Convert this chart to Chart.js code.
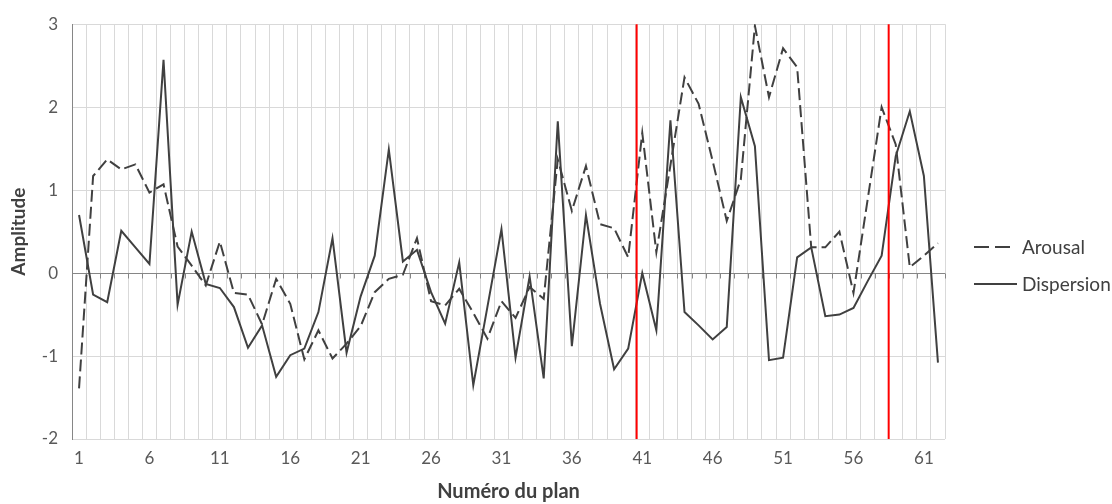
<!DOCTYPE html>
<html>
<head>
<meta charset="utf-8">
<script src="https://cdn.jsdelivr.net/npm/chart.js@4/dist/chart.umd.min.js"></script>
<style>
  html, body { margin: 0; padding: 0; background: #ffffff; }
  #wrap { width: 1112px; height: 504px; }
</style>
</head>
<body>
<div id="wrap"><canvas id="chart" width="1112" height="504"></canvas></div>
<script>
// Shot numbers (x categories)
const plans = [
  '1','2','3','4','5','6','7','8','9','10',
  '11','12','13','14','15','16','17','18','19','20',
  '21','22','23','24','25','26','27','28','29','30',
  '31','32','33','34','35','36','37','38','39','40',
  '41','42','43','44','45','46','47','48','49','50',
  '51','52','53','54','55','56','57','58','59','60',
  '61','62'
];

// Arousal amplitude per shot
const arousal = [
  -1.39, 1.17, 1.37, 1.25, 1.31, 0.97, 1.07, 0.32, 0.09, -0.15,
  0.38, -0.24, -0.26, -0.62, -0.07, -0.37, -1.04, -0.69, -1.03, -0.85,
  -0.64, -0.23, -0.07, -0.02, 0.42, -0.34, -0.39, -0.19, -0.48, -0.79,
  -0.34, -0.54, -0.17, -0.31, 1.37, 0.75, 1.29, 0.59, 0.54, 0.19,
  1.69, 0.25, 1.30, 2.36, 2.04, 1.35, 0.63, 1.13, 2.98, 2.12,
  2.71, 2.48, 0.31, 0.31, 0.50, -0.24, 0.88, 2.00, 1.55, 0.07,
  0.21, 0.36
];

// Dispersion amplitude per shot
const dispersion = [
  0.70, -0.26, -0.35, 0.51, 0.31, 0.11, 2.57, -0.38, 0.50, -0.13,
  -0.18, -0.41, -0.90, -0.63, -1.25, -0.99, -0.91, -0.47, 0.42, -0.96,
  -0.28, 0.21, 1.49, 0.14, 0.28, -0.23, -0.61, 0.13, -1.35, -0.41,
  0.53, -1.02, -0.04, -1.27, 1.83, -0.88, 0.70, -0.37, -1.16, -0.91,
  0.00, -0.69, 1.84, -0.47, -0.63, -0.80, -0.65, 2.12, 1.53, -1.05,
  -1.02, 0.19, 0.31, -0.52, -0.50, -0.42, -0.10, 0.21, 1.41, 1.95,
  1.17, -1.08
];

// Section boundaries (in shot-number units) marked with red vertical lines
const sectionMarks = [40.6, 58.5];

// Y axis range and tick step
const yMin = -2, yMax = 3, yStep = 1;

const FONT = 'Lato, "Open Sans", "Liberation Sans", sans-serif';
const LINE_COLOR = '#404040';
const ARO_DASH = [12, 5];

// Small tick marks hanging below the zero line, plus the red section lines and legend
const overlayPlugin = {
  id: 'overlay',
  beforeDatasetsDraw(chart) {
    const { ctx } = chart;
    const xs = chart.scales.x, ys = chart.scales.y;
    const y0 = Math.round(ys.getPixelForValue(0)) + 0.5;
    ctx.save();
    ctx.strokeStyle = '#868686';
    ctx.lineWidth = 1;
    ctx.beginPath();
    for (let i = 0; i <= plans.length; i++) {
      const x = Math.round(xs.getPixelForValue(i - 0.5)) + 0.5;
      ctx.moveTo(x, y0);
      ctx.lineTo(x, y0 + 5);
    }
    ctx.stroke();
    ctx.restore();
  },
  afterDatasetsDraw(chart) {
    const { ctx, chartArea } = chart;
    const xs = chart.scales.x;
    ctx.save();
    ctx.strokeStyle = '#ff0000';
    ctx.lineWidth = 2;
    sectionMarks.forEach(p => {
      const x = xs.getPixelForValue(p - 1);
      ctx.beginPath();
      ctx.moveTo(x, chartArea.top);
      ctx.lineTo(x, chartArea.bottom);
      ctx.stroke();
    });
    ctx.restore();
  },
  afterDraw(chart) {
    const { ctx, chartArea } = chart;
    const x0 = chartArea.right + 29;
    const rows = [
      { ds: chart.data.datasets[0], y: 247, len: 38, dash: [15, 6] },
      { ds: chart.data.datasets[1], y: 284, len: 43, dash: [] }
    ];
    ctx.save();
    rows.forEach(r => {
      ctx.strokeStyle = r.ds.borderColor;
      ctx.lineWidth = 2;
      ctx.setLineDash(r.dash);
      ctx.beginPath();
      ctx.moveTo(x0, r.y);
      ctx.lineTo(x0 + r.len, r.y);
      ctx.stroke();
      ctx.setLineDash([]);
      ctx.fillStyle = '#404040';
      ctx.font = '19px ' + FONT;
      ctx.textBaseline = 'middle';
      ctx.textAlign = 'left';
      ctx.fillText(r.ds.label, x0 + 48, r.y + 1);
    });
    ctx.restore();
  }
};

new Chart(document.getElementById('chart'), {
  type: 'line',
  data: {
    labels: plans,
    datasets: [
      {
        label: 'Arousal',
        data: arousal,
        borderColor: LINE_COLOR,
        borderWidth: 2,
        borderDash: ARO_DASH,
        fill: false,
        pointRadius: 0,
        tension: 0
      },
      {
        label: 'Dispersion',
        data: dispersion,
        borderColor: LINE_COLOR,
        borderWidth: 2,
        fill: false,
        pointRadius: 0,
        tension: 0
      }
    ]
  },
  options: {
    responsive: false,
    animation: false,
    devicePixelRatio: 1,
    layout: { padding: { top: 23, right: 167, bottom: 0, left: 0 } },
    plugins: {
      legend: { display: false },
      tooltip: { enabled: false }
    },
    scales: {
      x: {
        type: 'category',
        offset: true,
        grid: { offset: true, color: '#d9d9d9', lineWidth: 1, drawTicks: false },
        border: { display: false },
        ticks: {
          autoSkip: false,
          maxRotation: 0,
          minRotation: 0,
          padding: 9,
          color: '#595959',
          font: { family: FONT, size: 17 },
          callback: (v, i) => (i % 5 === 0 ? plans[i] : '')
        },
        title: {
          display: true,
          text: 'Numéro du plan',
          color: '#404040',
          font: { family: FONT, size: 20, weight: 'bold' },
          padding: { top: 0, bottom: 0 }
        },
        afterFit: s => { s.height = 65; }
      },
      y: {
        min: yMin,
        max: yMax,
        ticks: {
          stepSize: yStep,
          padding: 14,
          color: '#595959',
          font: { family: FONT, size: 17 }
        },
        grid: {
          color: c => (c.tick && c.tick.value === 0 ? '#868686' : '#d9d9d9'),
          lineWidth: 1,
          drawTicks: false
        },
        border: { display: true, color: '#868686' },
        title: {
          display: true,
          text: 'Amplitude',
          color: '#404040',
          font: { family: FONT, size: 19, weight: 'bold' },
          padding: { top: 7, bottom: 0 }
        },
        afterFit: s => { s.width = 72; }
      }
    }
  },
  plugins: [overlayPlugin]
});
</script>
</body>
</html>
